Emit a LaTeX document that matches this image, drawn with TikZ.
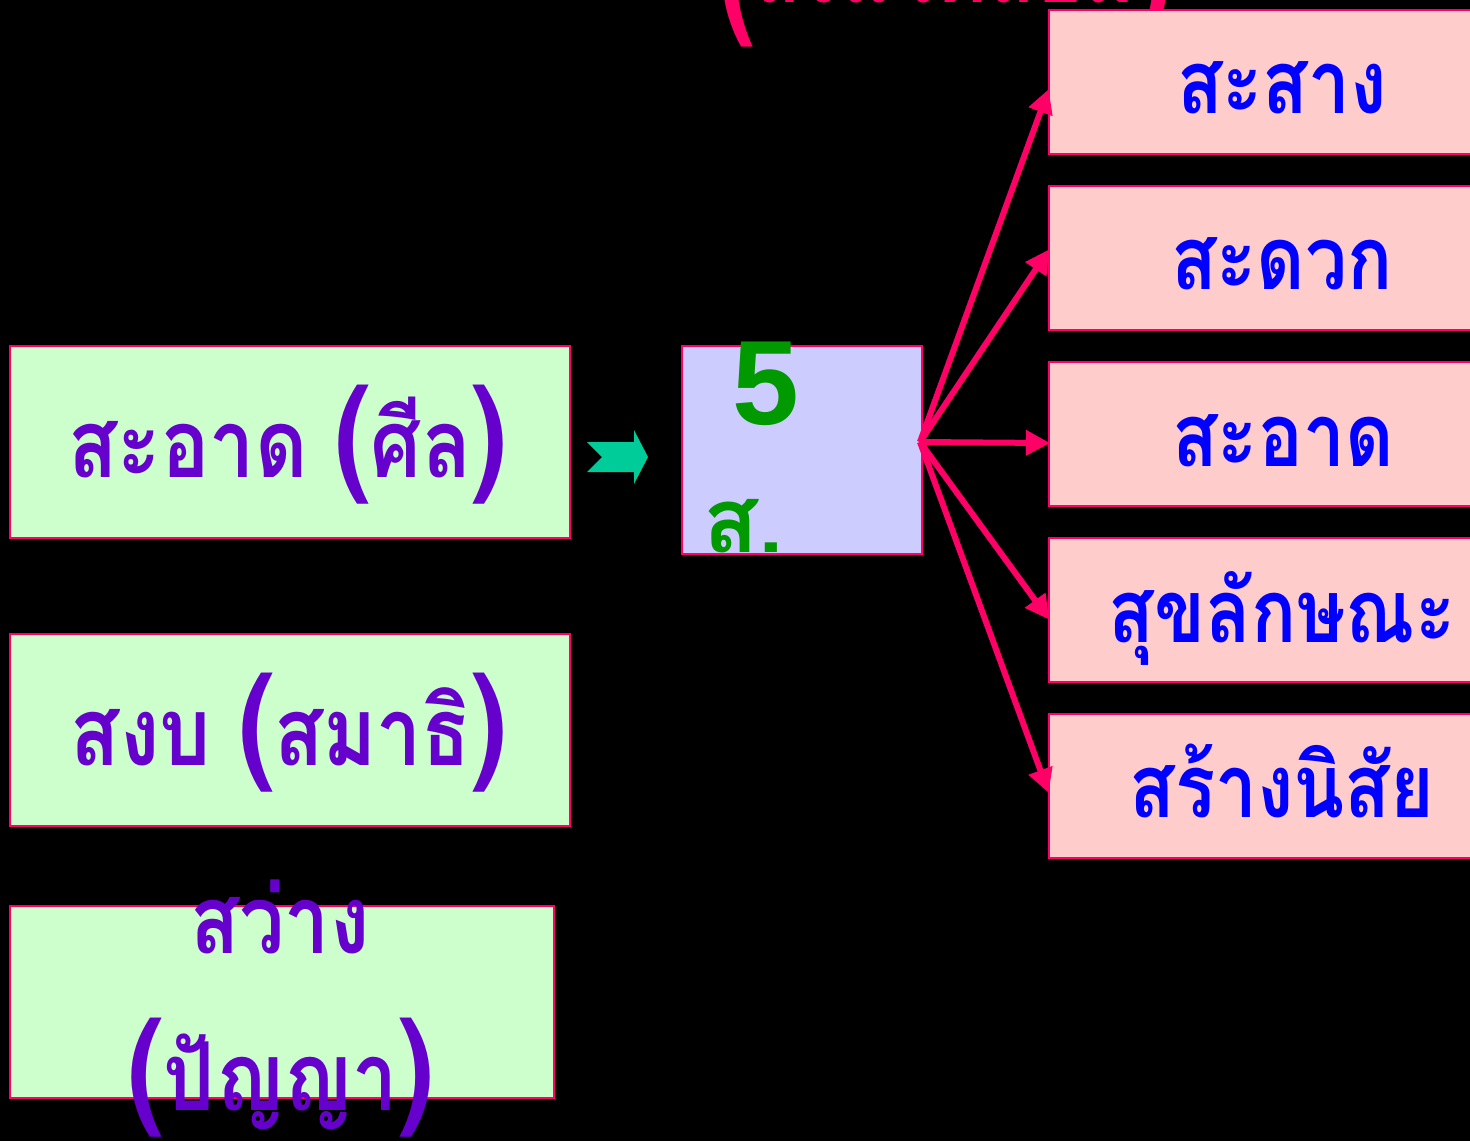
\documentclass[tikz,border=0pt]{standalone}
\usepackage{fontspec}
\setmainfont{Liberation Sans}
\newfontfamily\thaifont[Script=Thai]{Loma}
\newfontfamily\thaicond[Script=Thai, FakeStretch=0.85]{Loma}
\newfontfamily\thaititle[Script=Thai, FakeStretch=0.72]{Loma}
\usetikzlibrary{arrows.meta}
\definecolor{pinkline}{HTML}{FF0066}
\definecolor{lgreen}{HTML}{CCFFCC}
\definecolor{lpink}{HTML}{FFCCCC}
\definecolor{lblue}{HTML}{CCCCFF}
\definecolor{purp}{HTML}{6600CC}
\definecolor{tblue}{HTML}{0000FF}
\definecolor{dgreen}{HTML}{009900}
\definecolor{teal}{HTML}{00CC99}
\newcommand{\bigparL}{{\fontsize{127}{130}\selectfont(}}
\newcommand{\bigparR}{{\fontsize{127}{130}\selectfont)}}
\newcommand{\titparL}{\raisebox{-13pt}{\fontsize{150}{150}\selectfont(}}
\newcommand{\titparR}{\raisebox{-13pt}{\fontsize{150}{150}\selectfont)}}
\tikzset{
  box/.style={draw=pinkline, line width=2pt, inner sep=0pt, anchor=north west},
  greenbox/.style={box, fill=lgreen, minimum width=560pt, minimum height=192pt},
  pinkbox/.style={box, fill=lpink, minimum width=440pt, minimum height=144pt},
  lefttext/.style={anchor=base, inner sep=0pt, text=purp, font=\thaicond\bfseries\fontsize{95}{110}\selectfont},
  righttext/.style={anchor=base, inner sep=0pt, text=tblue, font=\thaicond\bfseries\fontsize{88}{100}\selectfont},
  conn/.style={draw=pinkline, line width=6pt, -{Triangle[length=24pt,width=24pt]}, shorten >=-2pt},
}
\begin{document}
\begin{tikzpicture}[x=1pt,y=-1pt]
\clip (0,0) rectangle (1470,1141);
\fill[black] (0,0) rectangle (1470,1141);
% title (mostly outside the picture)
\node[anchor=base, inner sep=0pt, text=pinkline, font=\thaititle\bfseries\fontsize{110}{130}\selectfont] (title) at (945,2) {\titparL สิ่งแวดล้อม\titparR};
% left boxes
\node[greenbox] (L1) at (9,345) {};
\node[greenbox] (L2) at (9,633) {};
\node[greenbox, minimum width=544pt] (L3) at (9,905) {};
\node[lefttext] (t1) at (288,477) {สะอาด \bigparL ศีล\bigparR};
\node[lefttext] (t2) at (289,765) {สงบ \bigparL สมาธิ\bigparR};
\node[lefttext] (t3a) at (280,953) {สว่าง};
\node[lefttext] (t3b) at (281,1110) {\bigparL ปัญญา\bigparR};
% green arrow
\fill[teal] (587,442) -- (634,442) -- (634,430) -- (648,457) -- (634,484) -- (634,472) -- (587,472) -- (602,457) -- cycle;
% middle box
\node[box, fill=lblue, minimum width=240pt, minimum height=208pt] (M) at (681,345) {};
\node[anchor=base, inner sep=0pt, text=dgreen, font=\bfseries\fontsize{120}{130}\selectfont] (five) at (766,424) {5};
\node[anchor=base west, inner sep=0pt, text=dgreen, font=\thaifont\bfseries\fontsize{90}{100}\selectfont] (s) at (703,552) {ส.};
% right boxes
\node[pinkbox] (R1) at (1048,9) {};
\node[pinkbox] (R2) at (1048,185) {};
\node[pinkbox] (R3) at (1048,361) {};
\node[pinkbox] (R4) at (1048,537) {};
\node[pinkbox] (R5) at (1048,713) {};
\node[righttext] (r1) at (1282,113) {สะสาง};
\node[righttext] (r2) at (1282,289) {สะดวก};
\node[righttext] (r3) at (1283,466) {สะอาด};
\node[righttext] (r4) at (1282,642) {สุขลักษณะ};
\node[righttext] (r5) at (1282,817) {สร้างนิสัย};
% connectors
\coordinate (src) at (920,442);
\draw[conn] (src) -- ([yshift=-9pt]R1.west);
\draw[conn] (src) -- ([yshift=7pt]R2.west);
\draw[conn] (src) -- ([yshift=-9pt]R3.west);
\draw[conn] (src) -- ([yshift=-8pt]R4.west);
\draw[conn] (src) -- ([yshift=-5pt]R5.west);
\end{tikzpicture}
\end{document}
